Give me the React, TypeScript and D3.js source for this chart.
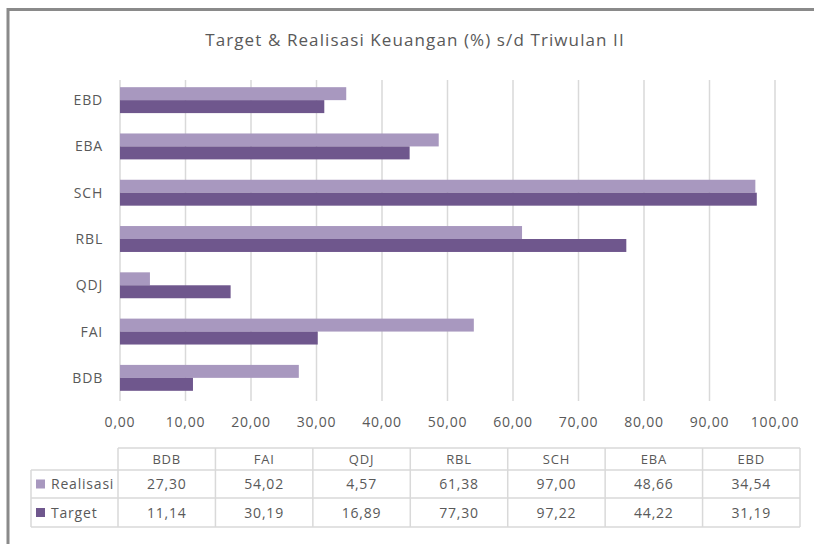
import React from 'react';
import * as d3 from 'd3';

const categories = ['BDB', 'FAI', 'QDJ', 'RBL', 'SCH', 'EBA', 'EBD'];
const seriesNames = ['Realisasi', 'Target'];
const realisasi = [27.3, 54.02, 4.57, 61.38, 97.0, 48.66, 34.54];
const target = [11.14, 30.19, 16.89, 77.3, 97.22, 44.22, 31.19];
const xTicks = [0, 10, 20, 30, 40, 50, 60, 70, 80, 90, 100];

const colors = ['#a898bf', '#6f578d'];
const textColor = '#595959';
const gridColor = '#d9d9d9';
const font = '"Open Sans", sans-serif';

const fmt = (v: number) => v.toFixed(2).replace('.', ',');

export default function App() {
  const width = 814;
  const height = 544;
  const values = [realisasi, target];

  const x = d3.scaleLinear().domain([0, 100]).range([120, 775]);
  const y = d3.scaleBand()
    .domain([...categories].reverse())
    .range([77, 401])
    .paddingInner(0.44)
    .paddingOuter(0.22);
  const ySub = d3.scaleBand().domain(seriesNames).range([0, y.bandwidth()]);

  const col = d3.scaleBand().domain(categories).range([118, 800]);
  const rowTop = [448, 470, 498, 527];
  const small = {fontFamily: font, fontSize: 14, letterSpacing: 0.8, fill: textColor};

  return (
    <svg width={width} height={height} style={{position: 'absolute', left: 0, top: 0}}>
      <rect x={0} y={0} width={width} height={height} fill="#fff" />
      <line x1={8} y1={9.5} x2={width} y2={9.5} stroke="#8a8a8a" strokeWidth={3} />
      <line x1={8} y1={8} x2={8} y2={height} stroke="#8a8a8a" strokeWidth={3} />

      <text x={415} y={46} textAnchor="middle" fontFamily={font} fontSize={17} letterSpacing={1.1} fill={textColor}>
        Target &amp; Realisasi Keuangan (%) s/d Triwulan II
      </text>

      {xTicks.map(t => (
        <g key={t}>
          <line x1={x(t)} x2={x(t)} y1={80} y2={401} stroke={gridColor} strokeWidth={1.5} />
          <text x={x(t)} y={427} textAnchor="middle" {...small}>
            {fmt(t)}
          </text>
        </g>
      ))}

      {categories.map((c, i) => (
        <g key={c}>
          <text x={103} y={y(c)! + y.bandwidth() / 2 + 5} textAnchor="end" {...small}>
            {c}
          </text>
          {seriesNames.map((s, j) => (
            <rect key={s} x={x(0)} y={y(c)! + ySub(s)!} width={x(values[j][i]) - x(0)} height={ySub.bandwidth()} fill={colors[j]} />
          ))}
        </g>
      ))}

      {/* data table */}
      <g stroke={gridColor} strokeWidth={1.5} fill="none">
        <line x1={118} x2={800} y1={rowTop[0]} y2={rowTop[0]} />
        <line x1={31} x2={800} y1={rowTop[1]} y2={rowTop[1]} />
        <line x1={31} x2={800} y1={rowTop[2]} y2={rowTop[2]} />
        <line x1={31} x2={800} y1={rowTop[3]} y2={rowTop[3]} />
        <line x1={31} x2={31} y1={rowTop[1]} y2={rowTop[3]} />
        {categories.map(c => (
          <line key={c} x1={col(c)} x2={col(c)} y1={rowTop[0]} y2={rowTop[3]} />
        ))}
        <line x1={800} x2={800} y1={rowTop[0]} y2={rowTop[3]} />
      </g>
      {categories.map(c => (
        <text key={c} x={col(c)! + col.bandwidth() / 2} y={rowTop[0] + 16} textAnchor="middle" {...small} fontSize={13}>
          {c}
        </text>
      ))}
      {seriesNames.map((s, j) => (
        <g key={s}>
          <rect x={36} y={(rowTop[j + 1] + rowTop[j + 2]) / 2 - 4.5} width={9} height={9} fill={colors[j]} />
          <text x={51} y={(rowTop[j + 1] + rowTop[j + 2]) / 2 + 5} {...small}>
            {s}
          </text>
          {categories.map((c, i) => (
            <text key={c} x={col(c)! + col.bandwidth() / 2} y={(rowTop[j + 1] + rowTop[j + 2]) / 2 + 5} textAnchor="middle" {...small}>
              {fmt(values[j][i])}
            </text>
          ))}
        </g>
      ))}
    </svg>
  );
}
